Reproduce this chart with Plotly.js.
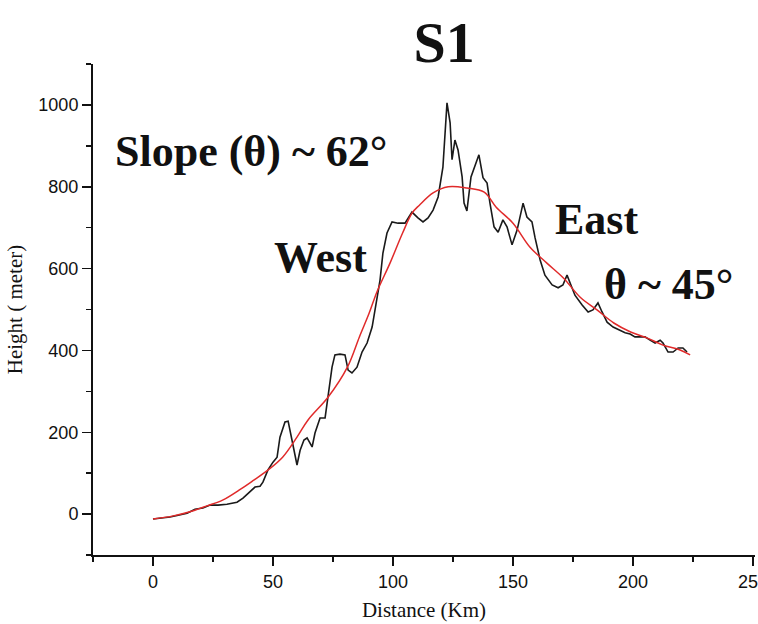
<!DOCTYPE html>
<html>
<head>
<meta charset="utf-8">
<script src="https://cdn.plot.ly/plotly-3.0.1.min.js"></script>
<style>
  html, body { margin: 0; padding: 0; background: #fff; }
  #chart { width: 758px; height: 624px; }
</style>
</head>
<body>
<div id="chart"></div>
<script>
// Topographic profile S1: measured height along the section (km, m)
const profileDistance = [
  0, 3.5, 7.1, 10.5, 14.2, 17.5, 20.8, 23.8, 27.1, 30.8, 35, 37.5, 40.4, 42.5, 44.6, 45.8,
  47.9, 50, 51.7, 52.9, 55, 56.3, 57.9, 60, 61.3, 62.9, 64.2, 66.3, 67.5, 69.6, 71.7, 72.9,
  74.6, 75.8, 77.9, 80, 81.3, 82.9, 85, 87.1, 89.2, 91.3, 93.3, 94.6, 95.8, 97.5, 99.6, 102.1,
  105, 107.9, 110.4, 112.5, 114.6, 116.7, 118.8, 120.8, 122.5, 123.8, 124.6, 125.8, 127.1, 128.8,
  129.6, 130.8, 132.5, 134.2, 135.8, 137.5, 139.2, 140.4, 142.1, 143.8, 145.8, 147.5, 149.6, 151.7,
  154.2, 155.8, 157.9, 159.2, 161.3, 163.3, 166.3, 168.8, 170.8, 172.5, 173.8, 175.8, 178.8, 181.3,
  183.3, 185.4, 187.1, 189.2, 191.7, 194.6, 196.7, 198.8, 200.8, 202.9, 205, 207.1, 209.2, 211.3,
  212.5, 214.6, 216.7, 218.8, 220.8, 222.5
];
const profileHeight = [
  -12, -10, -7, -3, 2, 12, 15, 22, 22, 24, 29, 39, 54, 66, 68, 78,
  108, 127, 139, 188, 225, 227, 181, 120, 156, 181, 186, 164, 198, 235, 235, 286,
  359, 389, 391, 389, 352, 345, 359, 396, 418, 457, 523, 572, 638, 687, 714, 711,
  711, 738, 724, 714, 724, 743, 775, 848, 1005, 956, 866, 914, 890, 824,
  760, 741, 824, 853, 878, 822, 809, 760, 702, 689, 719, 702, 658, 694,
  760, 726, 714, 675, 621, 584, 560, 553, 560, 584, 565, 535, 511, 494,
  499, 516, 494, 469, 457, 450, 443, 440, 433, 433, 433, 425, 418, 425,
  418, 396, 396, 406, 406, 396
];

// Smoothed trend of the same profile
const trendDistance = [
  0, 8, 15, 22.5, 29, 36, 42, 48, 54, 60, 64.6, 73, 81, 86, 90, 93.3, 98.8, 104, 108, 111,
  116.7, 123, 130.8, 138, 143, 150, 157, 164, 171, 178, 185, 192, 199, 206, 212.5, 219.6, 223.8
];
const trendHeight = [
  -12, -5, 5, 20, 34, 59, 83, 108, 139, 188, 230, 286, 359, 433, 490, 543, 614, 687, 736, 755,
  785, 800, 797, 787, 750, 711, 653, 614, 577, 530, 499, 467, 445, 430, 413, 401, 389
];

// Tick labels
const xTickValues = [0, 50, 100, 150, 200, 250];
const yTickValues = [0, 200, 400, 600, 800, 1000];

// Text drawn on the plot
const chartTitle = 'S1';
const xTitle = 'Distance (Km)';
const yTitle = 'Height ( meter)';
const notes = [
  { text: 'Slope (θ) ~ 62°', x: 0.030, y: 0.822 },
  { text: 'West', x: 0.270, y: 0.606 },
  { text: 'East', x: 0.695, y: 0.684 },
  { text: 'θ ~ 45°', x: 0.769, y: 0.551 }
];

const serif = '"Liberation Serif", "Times New Roman", serif';
const sans = '"Liberation Sans", Arial, sans-serif';

const traces = [
  {
    x: profileDistance, y: profileHeight, type: 'scatter', mode: 'lines',
    line: { color: '#1a1a1a', width: 1.6 }, name: 'Profile'
  },
  {
    x: trendDistance, y: trendHeight, type: 'scatter', mode: 'lines',
    line: { color: '#e02a2a', width: 1.5, shape: 'spline', smoothing: 1 }, name: 'Trend'
  }
];

const axisCommon = {
  showline: true, linecolor: '#111', linewidth: 2,
  ticks: 'outside', ticklen: 9, tickwidth: 1.5, tickcolor: '#111',
  showgrid: false, zeroline: false, automargin: false,
  tickfont: { family: sans, size: 18, color: '#111' }
};

const layout = {
  width: 758, height: 624,
  margin: { l: 93, r: 3, t: 64, b: 69 },
  paper_bgcolor: '#fff', plot_bgcolor: '#fff',
  showlegend: false,
  title: {
    text: '<b>' + chartTitle + '</b>',
    font: { family: serif, size: 58, color: '#111' },
    x: 0.586, xanchor: 'center', xref: 'container',
    y: 0.933, yanchor: 'middle', yref: 'container'
  },
  xaxis: Object.assign({}, axisCommon, {
    range: [-25, 250.83],
    tickmode: 'array', tickvals: xTickValues, ticktext: xTickValues.map(String),
    ticklabeloverflow: 'allow',
    minor: { dtick: 25, tick0: 0, ticks: 'outside', ticklen: 5, tickwidth: 1.5, tickcolor: '#111' },
    title: { text: xTitle, font: { family: serif, size: 21, color: '#111' }, standoff: 12 }
  }),
  yaxis: Object.assign({}, axisCommon, {
    range: [-100, 1100],
    tickmode: 'array', tickvals: yTickValues, ticktext: yTickValues.map(String),
    minor: { dtick: 100, tick0: 0, ticks: 'outside', ticklen: 5, tickwidth: 1.5, tickcolor: '#111' },
    title: { text: yTitle, font: { family: serif, size: 21, color: '#111' }, standoff: 10 }
  }),
  annotations: notes.map(n => ({
    text: '<b>' + n.text + '</b>',
    xref: 'paper', yref: 'paper', x: n.x, y: n.y,
    xanchor: 'left', yanchor: 'middle', showarrow: false,
    font: { family: serif, size: 44, color: '#111' }
  }))
};

Plotly.newPlot('chart', traces, layout, { staticPlot: true, displayModeBar: false });
</script>
</body>
</html>
